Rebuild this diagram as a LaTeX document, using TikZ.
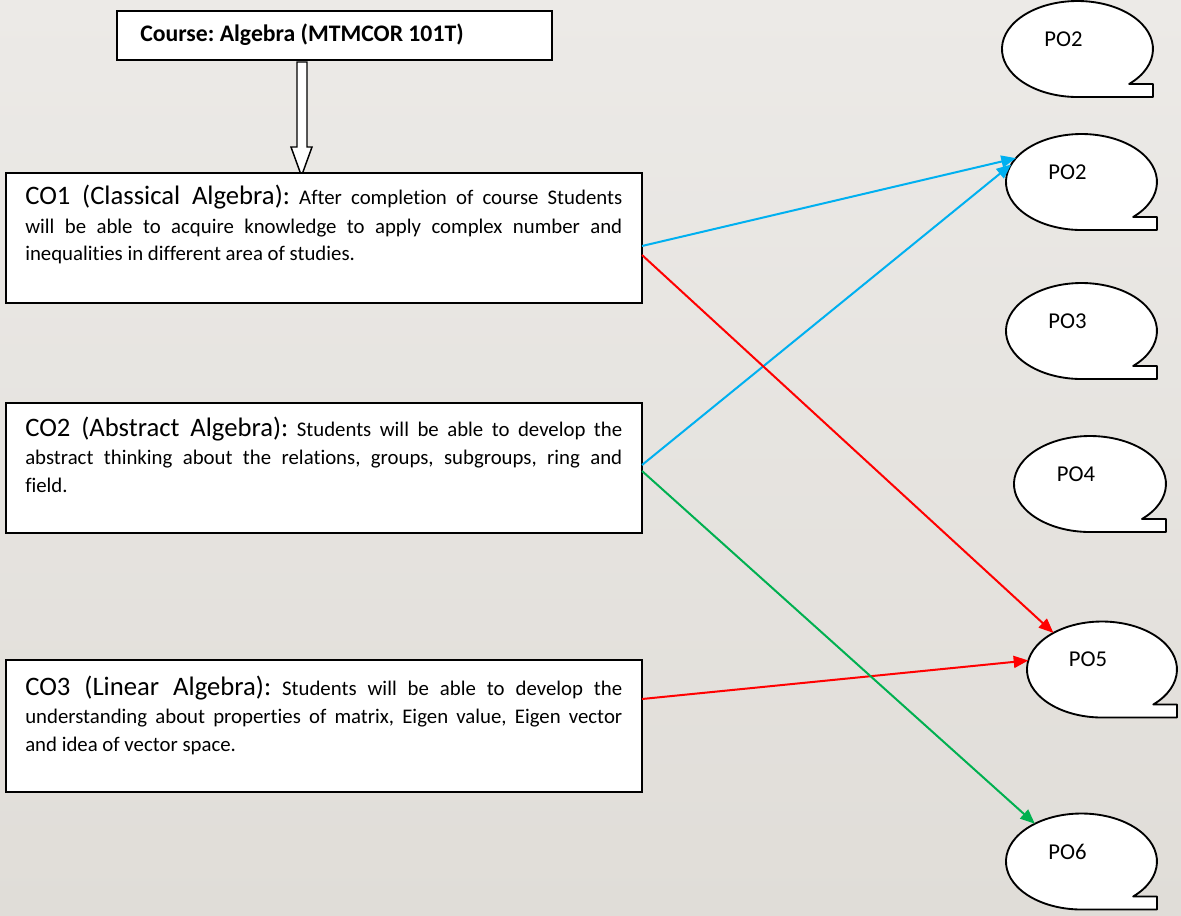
\documentclass[tikz,border=0pt]{standalone}
\usepackage{fontspec}
\setmainfont[Ligatures=NoCommon]{Carlito}
\usetikzlibrary{arrows.meta,shapes.geometric,calc}
\frenchspacing
\definecolor{bgtop}{RGB}{236,234,231}
\definecolor{bgbot}{RGB}{224,221,216}
\definecolor{arrblue}{RGB}{0,176,240}
\definecolor{arrred}{RGB}{255,0,0}
\definecolor{arrgreen}{RGB}{0,176,80}
\newcommand{\pobub}[5]{%
  \pgfmathsetmacro{\pbA}{#2+0.684*#4}%
  \pgfmathsetmacro{\pbB}{-#3-35}%
  \pgfmathsetmacro{\pbC}{#2+#4}%
  \pgfmathsetmacro{\pbD}{-#3-48}%
  \draw[bubble] (\pbA,\pbB) arc[start angle=-46.8,end angle=270,x radius=#4,y radius=48] -- (\pbC,\pbD) -- (\pbC,\pbB) -- cycle;
  \node[anchorell, minimum width=#4*1.5pt] (#1) at (#2,-#3) {};
  \node[potext] (#1t) at (#2-14,-#3+10) {#5};
}
\newcommand{\cohead}[1]{{\fontsize{20}{21}\selectfont #1}}
\begin{document}
\begin{tikzpicture}[x=0.75pt,y=0.75pt,
  bubble/.style={draw=black,line width=1.4pt,fill=white,line join=round},
  anchorell/.style={ellipse,inner sep=0pt,outer sep=0pt,minimum height=72pt},
  potext/.style={inner sep=0pt,font=\fontsize{17}{20}\selectfont},
  cobox/.style={draw=black,line width=1.4pt,fill=white,rectangle,inner sep=0pt,outer sep=0pt,anchor=north west},
  cotext/.style={inner sep=0pt,anchor=base west,font=\fontsize{15.6}{21}\selectfont},
  link/.style={line width=1.5pt,-{Triangle[length=11pt,width=9pt]}},
]
\useasboundingbox (0,0) rectangle (1181,-916);
\shade[top color=bgtop,bottom color=bgbot] (0,0) rectangle (1181,-916);

% course box
\node[cobox,minimum width=326.25pt,minimum height=36.75pt] (course) at (117,-11) {};
\node[inner sep=0pt,anchor=base west,font=\bfseries\fontsize{17.8}{20}\selectfont] (coursetext) at (140,-42) {Course: Algebra (MTMCOR 101T)};

% hollow arrow
\draw[line width=1.1pt,fill=white,line join=miter] (297,-62) -- (307,-62) -- (307,-147) -- (312,-147) -- (301.5,-176) -- (291,-147) -- (297,-147) -- cycle;

% CO boxes
\node[cobox,minimum width=477pt,minimum height=97.5pt] (co1) at (6,-173) {};
\node[cotext] (co1t) at (25,-205) {\parbox[t]{447.75pt}{\cohead{CO1 (Classical Algebra):} After completion of course Students\linebreak will be able to acquire knowledge to apply complex number and\linebreak inequalities in different area of studies.}};

\node[cobox,minimum width=477pt,minimum height=97.5pt] (co2) at (6,-403) {};
\node[cotext] (co2t) at (25,-436) {\parbox[t]{447.75pt}{\cohead{CO2 (Abstract Algebra):} Students will be able to develop the\linebreak abstract thinking about the relations, groups, subgroups, ring and\linebreak field.}};

\node[cobox,minimum width=477pt,minimum height=99pt] (co3) at (6,-660) {};
\node[cotext] (co3t) at (25,-695) {\parbox[t]{447.75pt}{\cohead{CO3 (Linear Algebra):} Students will be able to develop the\linebreak understanding about properties of matrix, Eigen value, Eigen vector\linebreak and idea of vector space.}};

% PO bubbles
\pobub{poa}{1077.5}{49}{75.5}{PO2}
\pobub{pob}{1081.5}{182}{75.5}{PO2}
\pobub{poc}{1081.5}{331}{75.5}{PO3}
\pobub{pod}{1090}{484}{76}{PO4}
\pobub{poe}{1102}{669.5}{75}{PO5}
\pobub{pof}{1081.5}{861.5}{75.5}{PO6}

% connectors
\draw[link,arrblue] ([yshift=-6pt]co1.east) -- (pob.160);
\draw[link,arrblue] ([yshift=2.25pt]co2.east) -- (pob.166);
\draw[link,arrred] ([yshift=-12.75pt]co1.east) -- (poe.143);
\draw[link,arrred] ([yshift=20.25pt]co3.east) -- (poe.173);
\draw[link,arrgreen] ([yshift=-2.25pt]co2.east) -- (pof.141);
\end{tikzpicture}
\end{document}
